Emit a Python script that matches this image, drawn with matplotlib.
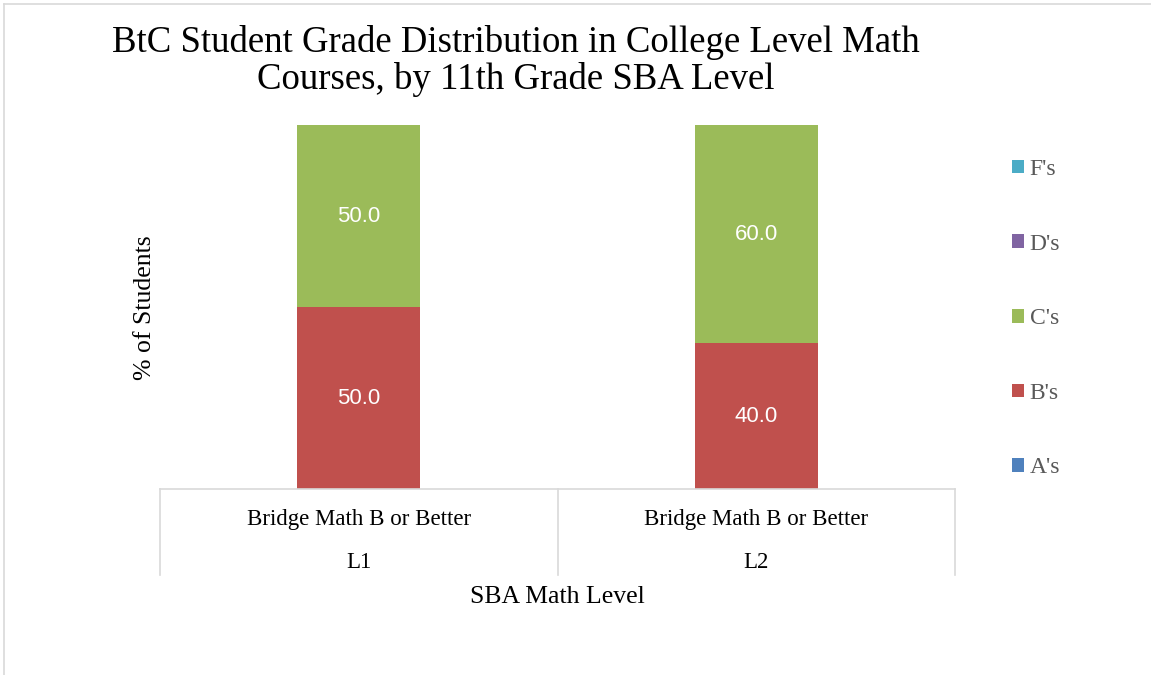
import matplotlib.pyplot as plt
import matplotlib.transforms as mtransforms
from matplotlib.lines import Line2D
import numpy as np

# data
categories = ['L1', 'L2']
course = ['Bridge Math B or Better', 'Bridge Math B or Better']
grades = ["A's", "B's", "C's", "D's", "F's"]
a_vals = [0, 0]
b_vals = [50, 40]
c_vals = [50, 60]
d_vals = [0, 0]
f_vals = [0, 0]
colores = ['#4F81BD', '#C0504D', '#9BBB59', '#8064A2', '#4BACC6']

serif = ['Liberation Serif', 'DejaVu Serif']

W, H = 1151, 675
fig = plt.figure(figsize=(W / 100, H / 100), dpi=100)

# marco gris de la figura
fig.add_artist(Line2D([4 / W, 1], [1 - 4 / H, 1 - 4 / H], color='#d9d9d9', lw=1.2, transform=fig.transFigure))
fig.add_artist(Line2D([4 / W, 4 / W], [0, 1 - 4 / H], color='#d9d9d9', lw=1.2, transform=fig.transFigure))

ax = fig.add_axes([160 / W, (H - 489) / H, 795 / W, 364 / H])

x = np.arange(len(categories))
ancho = 0.31
series = [a_vals, b_vals, c_vals, d_vals, f_vals]
base = np.zeros(len(categories))
barras = []
for vals, col, lab in zip(series, colores, grades):
    b = ax.bar(x, vals, ancho, bottom=base, color=col, label=lab)
    barras.append(b)
    for xi, bi, v in zip(x, base, vals):
        if v > 0:
            ax.text(xi, bi + v / 2, f'{v:.1f}', ha='center', va='center',
                    color='white', fontsize=16, family='Liberation Sans')
    base = base + np.array(vals)

ax.set_xlim(-0.5, 1.5)
ax.set_ylim(0, 100)
for s in ax.spines.values():
    s.set_visible(False)
ax.set_xticks([])
ax.set_yticks([])

# tabla de categorias bajo el eje
gris = '#d9d9d9'
prof = -(575 - 489) / 364
ax.plot([0, 1], [0, 0], color=gris, lw=1.2, transform=ax.transAxes, clip_on=False)
for xv in [0, 0.5, 1]:
    ax.plot([xv, xv], [0, prof], color=gris, lw=1.2, transform=ax.transAxes, clip_on=False)

trans = mtransforms.blended_transform_factory(ax.transData, ax.transAxes)
for xi, cur, cat in zip(x, course, categories):
    ax.text(xi, -(519 - 489) / 364, cur, ha='center', va='center', fontsize=16.5,
            family=serif, transform=trans)
    ax.text(xi, -(562 - 489) / 364, cat, ha='center', va='center', fontsize=16.5,
            family=serif, transform=trans)

fig.text((160 + 955) / 2 / W, 1 - 597 / H, 'SBA Math Level', ha='center', va='center',
         fontsize=18.5, family=serif)
fig.text(145 / W, 1 - 308 / H, '% of Students', ha='center', va='center',
         rotation=90, fontsize=18.5, family=serif)

fig.text(516 / W, 1 - 61 / H, 'BtC Student Grade Distribution in College Level Math\nCourses, by 11th Grade SBA Level',
         ha='center', va='center', fontsize=26.5, family=serif, linespacing=1.08)

leg = fig.legend(barras[::-1], grades[::-1], loc='upper left',
                 bbox_to_anchor=(1012 / W, 1 - 159 / H), frameon=False,
                 prop={'family': serif, 'size': 17}, labelspacing=2.27,
                 borderpad=0, borderaxespad=0,
                 handlelength=0.5, handleheight=0.5, handletextpad=0.25)
for t in leg.get_texts():
    t.set_color('#595959')

fig.savefig('out.png', dpi=100)
